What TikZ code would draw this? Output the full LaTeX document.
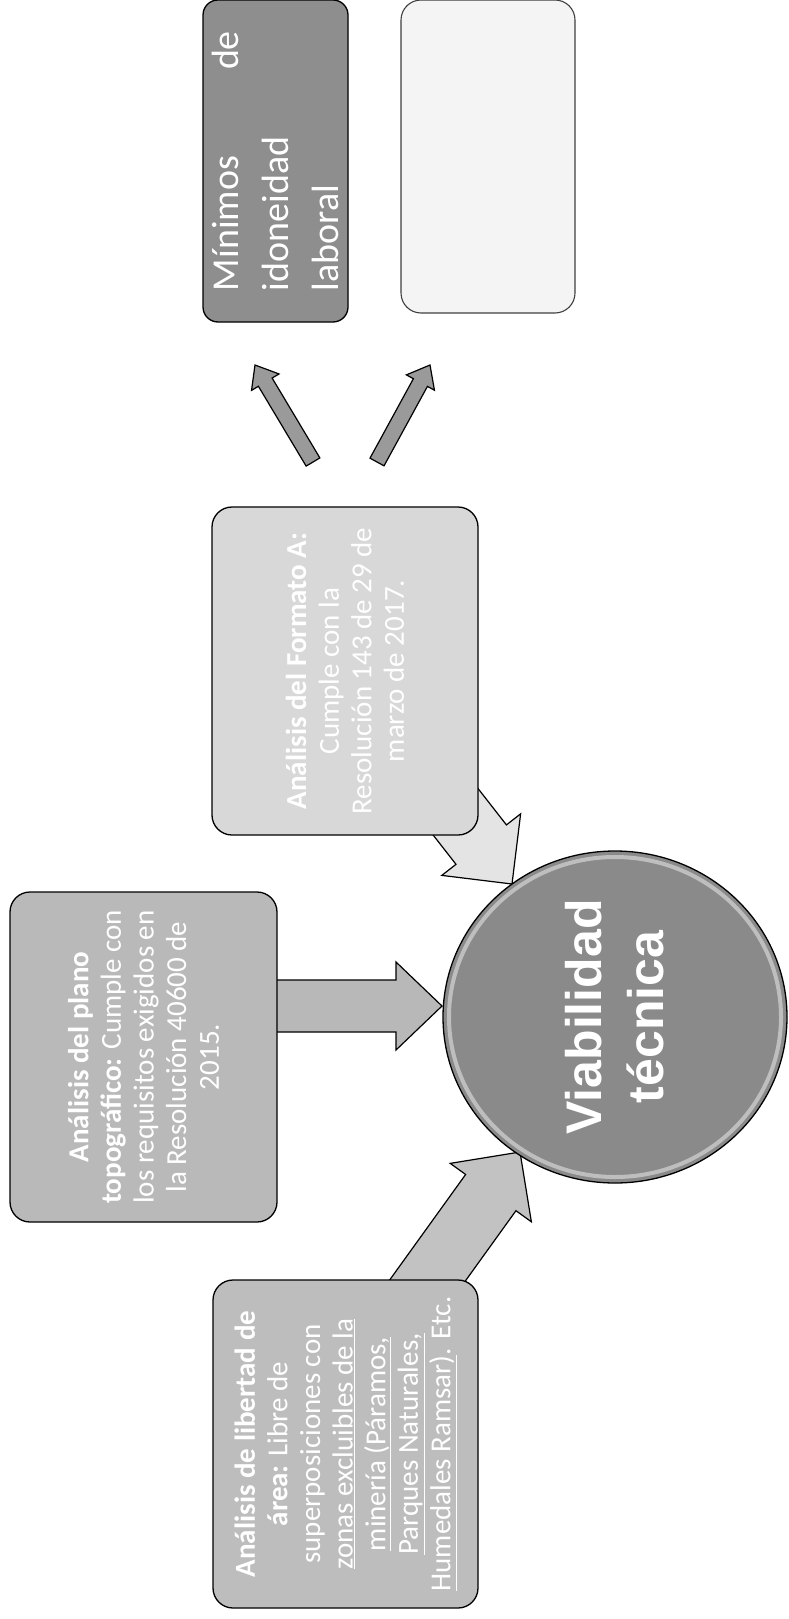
\documentclass[tikz,border=0pt]{standalone}
\usepackage{fontspec}
\setmainfont{Carlito}
\newfontfamily\arialfont{Liberation Sans}
\usetikzlibrary{calc,shapes.geometric}
\definecolor{darkbox}{HTML}{8E8E8E}
\definecolor{lightbox}{HTML}{F4F4F4}
\definecolor{formbox}{HTML}{D8D8D8}
\definecolor{topobox}{HTML}{B9B9B9}
\definecolor{areabox}{HTML}{BDBDBD}
\definecolor{circfill}{HTML}{8A8A8A}
\definecolor{arrowmid}{HTML}{9A9A9A}
\definecolor{arrowlight}{HTML}{E4E4E4}
\definecolor{arrowlow}{HTML}{C2C2C2}
\definecolor{arrowhor}{HTML}{B8B8B8}
\newcommand{\mkarrow}[6]{%
  \draw[#6] ($(#1)!#3!90:(#2)$)
    -- ($ ($(#2)!#5!(#1)$)!#3!90:(#2) $)
    -- ($ ($(#2)!#5!(#1)$)!#4!90:(#2) $)
    -- (#2)
    -- ($ ($(#2)!#5!(#1)$)!#4!-90:(#2) $)
    -- ($ ($(#2)!#5!(#1)$)!#3!-90:(#2) $)
    -- ($(#1)!#3!-90:(#2)$) -- cycle;}
\tikzset{
  box/.style={draw=black, line width=1.3pt, rounded corners=20pt, rotate=90,
    text=white, inner sep=0pt, align=center},
  boxtext/.style={font=\fontsize{29}{32.6}\selectfont},
  blockarrow/.style={draw=black, line width=1.2pt, line join=miter},
}
\begin{document}
\begin{tikzpicture}[x=1pt,y=-1pt]
\useasboundingbox (0,0) rectangle (789,1619);
\fill[white] (0,0) rectangle (789,1619);

% coordinates for block arrows
\coordinate (upLt) at (313,462);
\coordinate (upLp) at (255,365);
\coordinate (upRt) at (377,462);
\coordinate (upRp) at (430,365);
\coordinate (formT) at (412,756);
\coordinate (formP) at (512,884);
\coordinate (areaT) at (412,1302);
\coordinate (areaP) at (520,1152);
\coordinate (topoT) at (250,1006);
\coordinate (topoP) at (442,1006);

% arrows (drawn first, tails hidden behind boxes)
\mkarrow{upLt}{upLp}{8pt}{16pt}{20pt}{blockarrow, fill=arrowmid}
\mkarrow{upRt}{upRp}{8pt}{16pt}{20pt}{blockarrow, fill=arrowmid}
\mkarrow{formT}{formP}{32pt}{50pt}{50pt}{blockarrow, fill=arrowlight}
\mkarrow{areaT}{areaP}{31pt}{50pt}{50pt}{blockarrow, fill=arrowlow}
\mkarrow{topoT}{topoP}{26pt}{44pt}{46pt}{blockarrow, fill=arrowhor}

% top boxes
\node[box, fill=darkbox, rounded corners=15pt, minimum width=322pt, minimum height=145pt,
      text width=260pt, align=left, font=\fontsize{38}{50}\selectfont]
  (minimos) at (275.5,161) {Mínimos\hfill de\\idoneidad\\laboral};
\node[box, fill=lightbox, draw=black!75, line width=1.1pt, minimum width=313pt, minimum height=174pt]
  (vacio) at (488,156.5) {};

% middle box
\node[box, boxtext, fill=formbox, minimum width=328pt, minimum height=266pt]
  (formato) at (345,671)
  {\textbf{Análisis del Formato A:}\\Cumple con la\\Resolución 143 de 29 de\\marzo de 2017.};

% topographic box
\node[box, boxtext, fill=topobox, minimum width=330pt, minimum height=267pt]
  (topo) at (143.5,1057)
  {\textbf{Análisis del plano}\\\textbf{topográfico:} Cumple con\\los requisitos exigidos en\\la Resolución 40600 de\\2015.};

% bottom box
\node[box, boxtext, fill=areabox, minimum width=328pt, minimum height=265pt]
  (area) at (345.5,1444)
  {\textbf{Análisis de libertad de}\\\textbf{área:} Libre de\\superposiciones con\\\underline{zonas excluibles de la}\\\underline{minería (Páramos,}\\\underline{Parques Naturales,}\\\underline{Humedales Ramsar)}. Etc.};

% circle
\node[ellipse, draw=black, line width=1.3pt, fill=circfill, minimum width=344pt,
      minimum height=332pt, inner sep=0pt]
  (via) at (615,1017) {};
\draw[white, opacity=0.45, line width=4pt] (via.center) ellipse [x radius=166pt, y radius=160pt];
\node[rotate=90, text=white, align=center,
      font=\arialfont\bfseries\fontsize{50}{62}\selectfont] (vialabel) at (via.center)
  {Viabilidad\\técnica};
\end{tikzpicture}
\end{document}
